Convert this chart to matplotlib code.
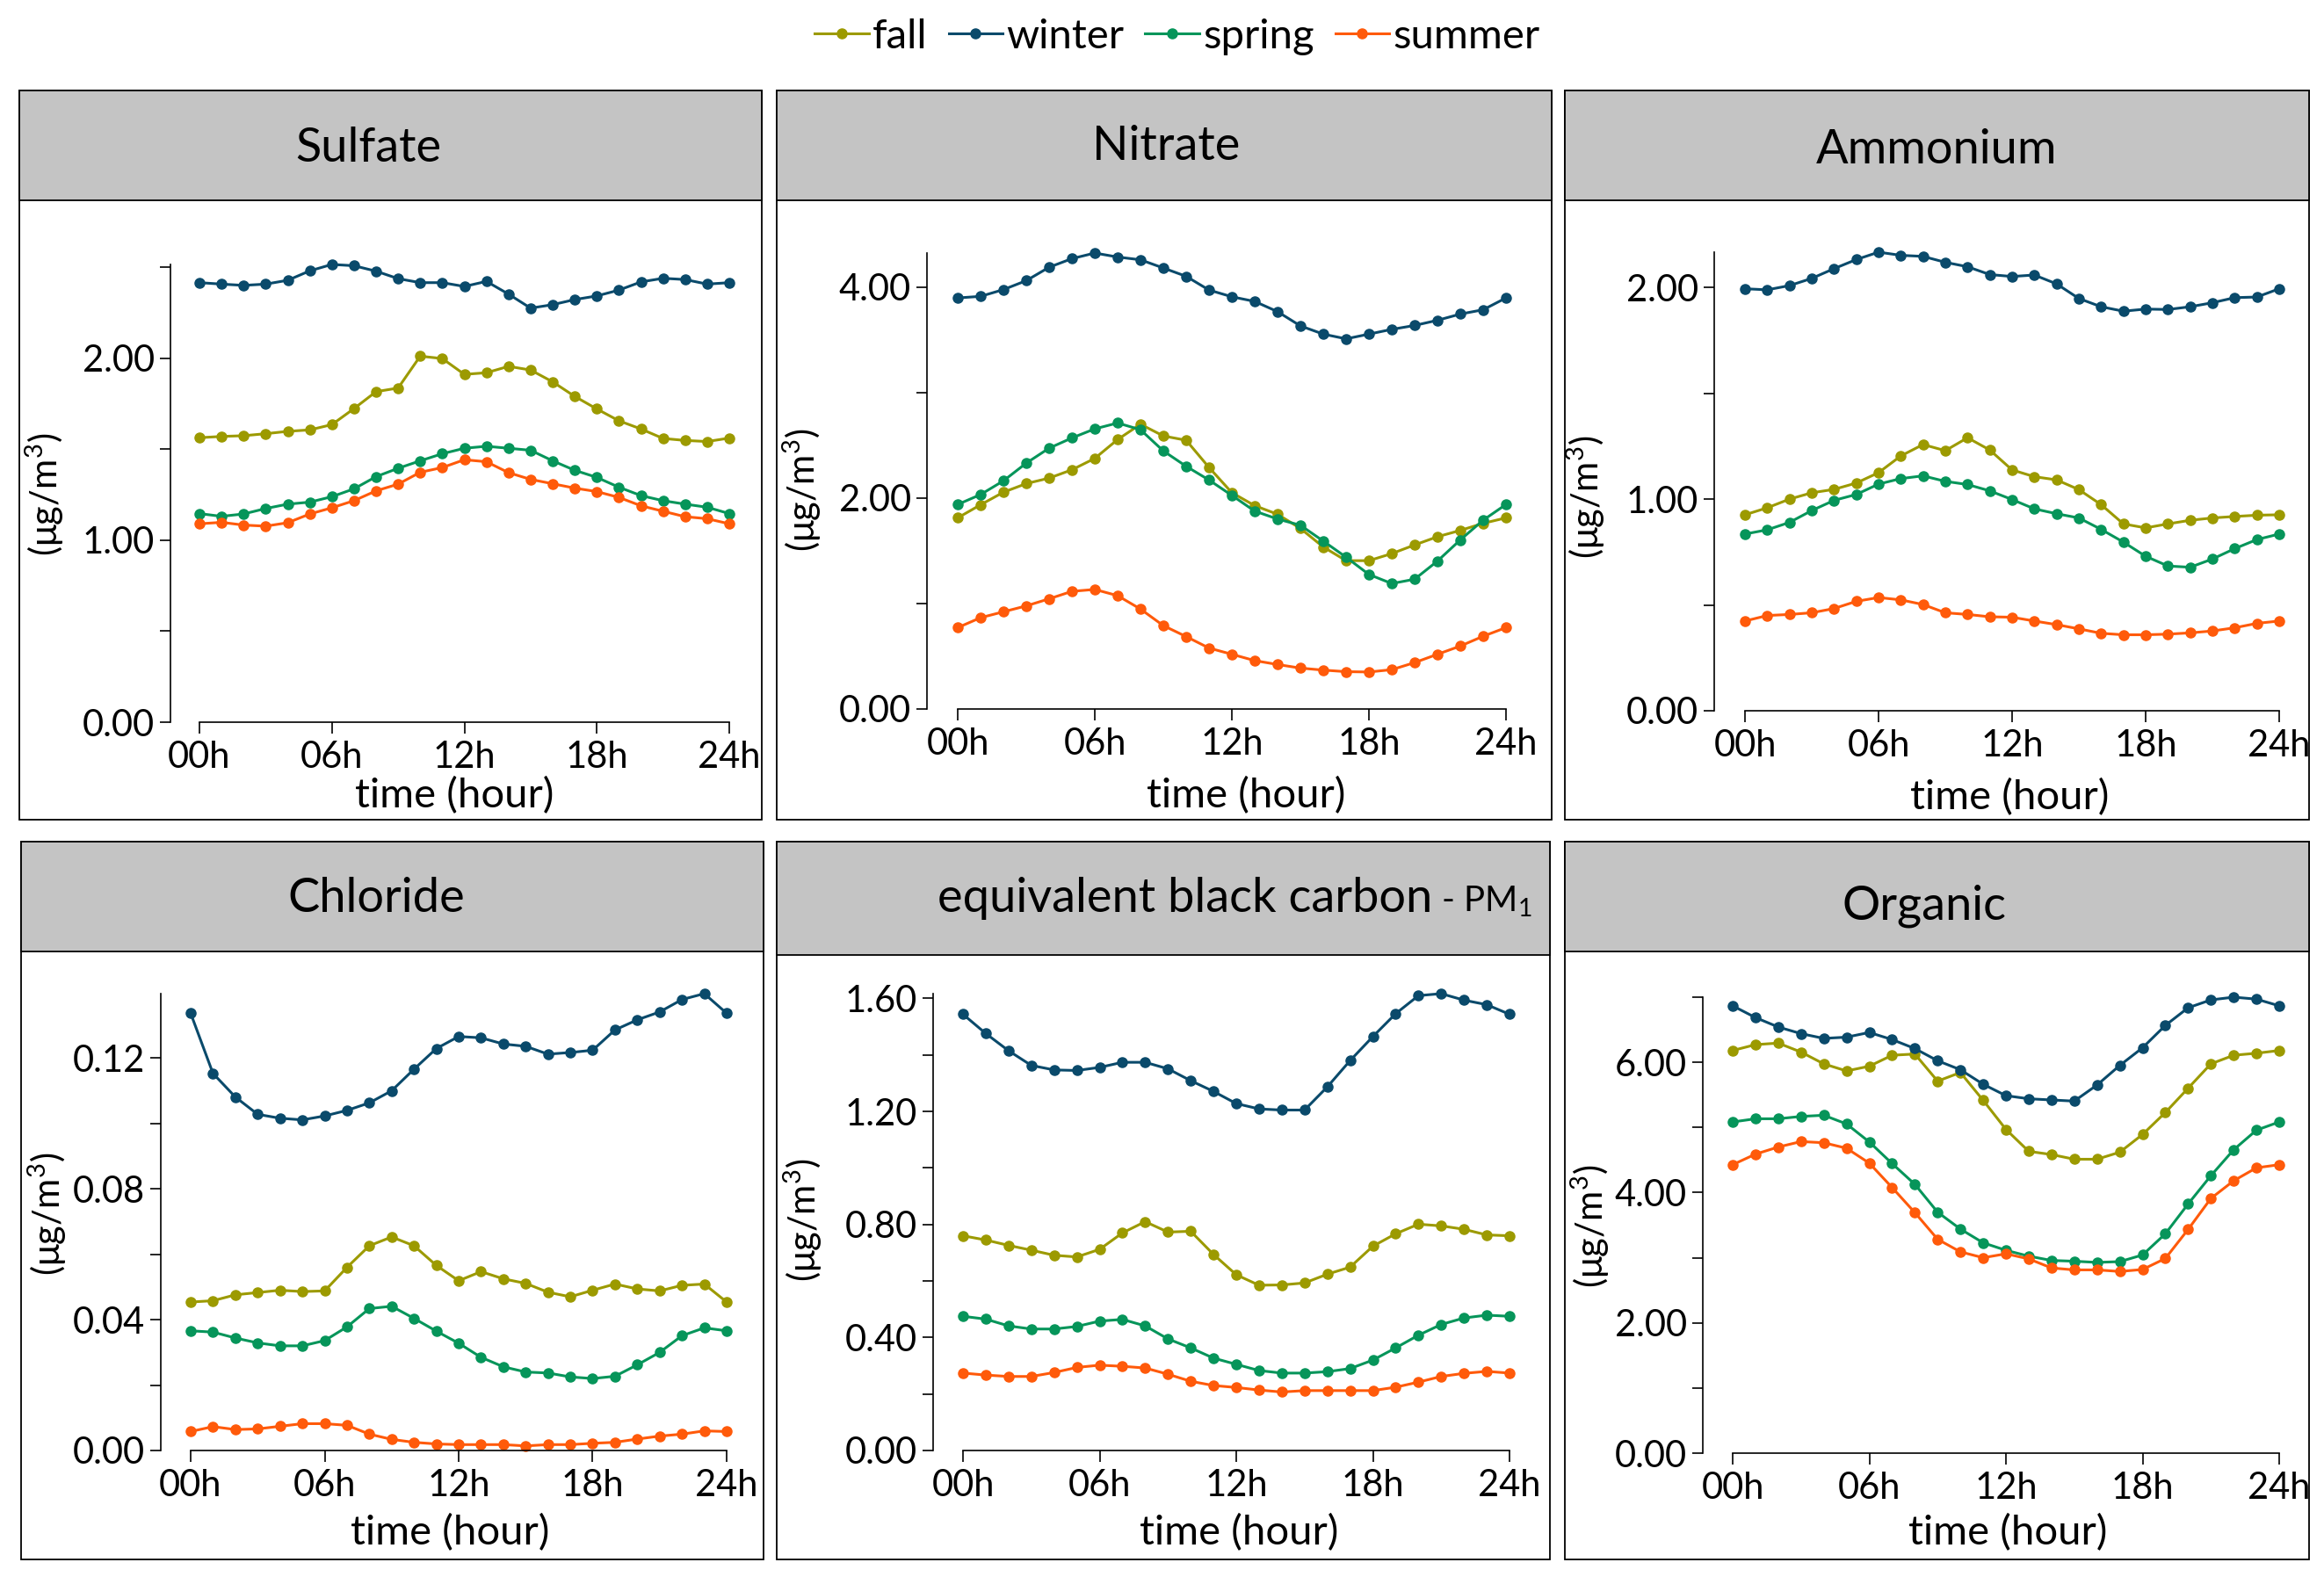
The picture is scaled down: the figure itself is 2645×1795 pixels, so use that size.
import matplotlib
matplotlib.use("Agg")
import matplotlib.pyplot as plt
from matplotlib.patches import Rectangle
from matplotlib.lines import Line2D

plt.rcParams['font.family'] = ['Lato', 'DejaVu Sans']
plt.rcParams['mathtext.fontset'] = 'custom'
plt.rcParams['mathtext.rm'] = 'Lato'
plt.rcParams['mathtext.it'] = 'Lato:italic'

W, H = 2645, 1795

hours = list(range(25))
hour_ticks = [0, 6, 12, 18, 24]
hour_labels = ['00h', '06h', '12h', '18h', '24h']
seasons = ['fall', 'winter', 'spring', 'summer']
season_colors = ['#9c9a00', '#0a4a6b', '#06955a', '#ff5a0a']

# ---- data (hourly means, 00h..24h) ----
sulfate_fall = [1.563, 1.570, 1.574, 1.585, 1.598, 1.606, 1.635, 1.723, 1.816, 1.836, 2.011, 1.998, 1.911,
                1.920, 1.955, 1.935, 1.870, 1.790, 1.721, 1.656, 1.611, 1.559, 1.548, 1.542, 1.561]
sulfate_winter = [2.415, 2.407, 2.400, 2.407, 2.428, 2.480, 2.515, 2.508, 2.478, 2.437, 2.415, 2.415, 2.394,
                  2.422, 2.352, 2.275, 2.294, 2.322, 2.342, 2.374, 2.419, 2.439, 2.432, 2.407, 2.415]
sulfate_spring = [1.146, 1.131, 1.144, 1.174, 1.198, 1.209, 1.239, 1.282, 1.349, 1.395, 1.436, 1.475, 1.505,
                  1.516, 1.505, 1.494, 1.436, 1.384, 1.345, 1.291, 1.245, 1.217, 1.198, 1.181, 1.146]
sulfate_summer = [1.090, 1.098, 1.083, 1.077, 1.096, 1.144, 1.178, 1.217, 1.271, 1.308, 1.373, 1.399, 1.442,
                  1.431, 1.371, 1.334, 1.310, 1.286, 1.267, 1.235, 1.189, 1.159, 1.129, 1.118, 1.090]

nitrate_fall = [1.813, 1.937, 2.056, 2.138, 2.190, 2.269, 2.377, 2.556, 2.701, 2.590, 2.549, 2.291, 2.052,
                1.929, 1.847, 1.713, 1.537, 1.407, 1.407, 1.474, 1.556, 1.634, 1.694, 1.761, 1.813]
nitrate_winter = [3.899, 3.914, 3.978, 4.063, 4.190, 4.272, 4.325, 4.287, 4.261, 4.183, 4.104, 3.974, 3.910,
                  3.866, 3.769, 3.634, 3.556, 3.511, 3.556, 3.601, 3.638, 3.687, 3.746, 3.787, 3.899]
nitrate_spring = [1.940, 2.034, 2.164, 2.332, 2.474, 2.571, 2.657, 2.713, 2.649, 2.448, 2.302, 2.172, 2.026,
                  1.877, 1.802, 1.743, 1.593, 1.440, 1.276, 1.190, 1.231, 1.403, 1.604, 1.791, 1.940]
nitrate_summer = [0.772, 0.866, 0.922, 0.978, 1.045, 1.116, 1.134, 1.075, 0.948, 0.791, 0.687, 0.578, 0.519,
                  0.459, 0.422, 0.388, 0.369, 0.354, 0.351, 0.373, 0.440, 0.519, 0.597, 0.690, 0.772]

ammonium_fall = [0.926, 0.959, 1.000, 1.030, 1.046, 1.076, 1.125, 1.204, 1.258, 1.229, 1.290, 1.232, 1.138,
                 1.106, 1.091, 1.045, 0.974, 0.883, 0.864, 0.883, 0.900, 0.911, 0.918, 0.924, 0.926]
ammonium_winter = [1.994, 1.989, 2.009, 2.043, 2.089, 2.132, 2.167, 2.152, 2.147, 2.119, 2.098, 2.061, 2.052,
                   2.059, 2.017, 1.948, 1.909, 1.888, 1.898, 1.896, 1.909, 1.928, 1.952, 1.955, 1.994]
ammonium_spring = [0.835, 0.855, 0.890, 0.946, 0.994, 1.022, 1.071, 1.097, 1.110, 1.084, 1.069, 1.039, 0.998,
                   0.954, 0.931, 0.911, 0.857, 0.797, 0.730, 0.684, 0.678, 0.717, 0.766, 0.809, 0.835]
ammonium_summer = [0.424, 0.450, 0.455, 0.463, 0.483, 0.517, 0.535, 0.524, 0.502, 0.463, 0.455, 0.444, 0.442,
                   0.424, 0.407, 0.387, 0.366, 0.359, 0.359, 0.362, 0.368, 0.377, 0.392, 0.413, 0.424]

chloride_fall = [0.0454, 0.0458, 0.0476, 0.0483, 0.0490, 0.0486, 0.0488, 0.0560, 0.0626, 0.0653, 0.0626, 0.0566,
                 0.0519, 0.0547, 0.0525, 0.0511, 0.0484, 0.0470, 0.0490, 0.0509, 0.0494, 0.0488, 0.0505, 0.0509,
                 0.0454]
chloride_winter = [0.1337, 0.1153, 0.1081, 0.1028, 0.1016, 0.1011, 0.1023, 0.1040, 0.1063, 0.1100, 0.1166, 0.1229,
                   0.1266, 0.1262, 0.1243, 0.1236, 0.1212, 0.1217, 0.1224, 0.1286, 0.1317, 0.1341, 0.1379, 0.1397,
                   0.1337]
chloride_spring = [0.0366, 0.0362, 0.0344, 0.0329, 0.0320, 0.0320, 0.0336, 0.0378, 0.0434, 0.0441, 0.0404, 0.0365,
                   0.0328, 0.0285, 0.0256, 0.0240, 0.0237, 0.0225, 0.0220, 0.0227, 0.0262, 0.0300, 0.0351, 0.0375,
                   0.0366]
chloride_summer = [0.0058, 0.0073, 0.0064, 0.0066, 0.0074, 0.0082, 0.0082, 0.0077, 0.0050, 0.0034, 0.0025, 0.0020,
                   0.0018, 0.0018, 0.0018, 0.0014, 0.0018, 0.0018, 0.0022, 0.0025, 0.0035, 0.0044, 0.0050, 0.0060,
                   0.0058]

ebc_fall = [0.760, 0.745, 0.726, 0.709, 0.691, 0.685, 0.712, 0.770, 0.810, 0.773, 0.776, 0.694, 0.622,
            0.585, 0.586, 0.593, 0.624, 0.649, 0.723, 0.767, 0.801, 0.795, 0.783, 0.763, 0.760]
ebc_winter = [1.544, 1.476, 1.415, 1.363, 1.347, 1.345, 1.356, 1.374, 1.374, 1.351, 1.309, 1.271, 1.228,
              1.209, 1.205, 1.205, 1.287, 1.380, 1.465, 1.546, 1.610, 1.617, 1.594, 1.578, 1.544]
ebc_spring = [0.475, 0.465, 0.441, 0.430, 0.430, 0.439, 0.458, 0.464, 0.441, 0.395, 0.363, 0.327, 0.305,
              0.283, 0.274, 0.274, 0.279, 0.290, 0.320, 0.363, 0.408, 0.446, 0.469, 0.479, 0.475]
ebc_summer = [0.274, 0.267, 0.262, 0.262, 0.276, 0.294, 0.302, 0.298, 0.292, 0.270, 0.245, 0.230, 0.223,
              0.214, 0.207, 0.212, 0.212, 0.212, 0.212, 0.224, 0.242, 0.262, 0.273, 0.280, 0.274]

organic_fall = [6.181, 6.271, 6.295, 6.157, 5.976, 5.867, 5.940, 6.108, 6.127, 5.711, 5.843, 5.416, 4.970,
                4.633, 4.584, 4.512, 4.512, 4.620, 4.892, 5.229, 5.602, 5.976, 6.108, 6.139, 6.181]
organic_winter = [6.867, 6.687, 6.542, 6.440, 6.367, 6.386, 6.458, 6.349, 6.211, 6.024, 5.886, 5.663, 5.488,
                  5.440, 5.422, 5.404, 5.651, 5.952, 6.223, 6.566, 6.837, 6.958, 7.000, 6.970, 6.867]
organic_spring = [5.084, 5.133, 5.133, 5.169, 5.187, 5.054, 4.777, 4.446, 4.127, 3.699, 3.440, 3.229, 3.114,
                  3.024, 2.958, 2.946, 2.928, 2.940, 3.042, 3.367, 3.825, 4.259, 4.657, 4.958, 5.084]
organic_summer = [4.428, 4.590, 4.699, 4.783, 4.765, 4.681, 4.452, 4.078, 3.693, 3.283, 3.090, 3.000, 3.060,
                  2.982, 2.843, 2.813, 2.813, 2.789, 2.819, 2.988, 3.434, 3.910, 4.181, 4.380, 4.428]

# y ticks (all drawn) and which of them carry a label
sulfate_ticks = [0, 0.5, 1.0, 1.5, 2.0, 2.5]
sulfate_labels = ['0.00', '', '1.00', '', '2.00', '']
nitrate_ticks = [0, 1, 2, 3, 4]
nitrate_labels = ['0.00', '', '2.00', '', '4.00']
ammonium_ticks = [0, 0.5, 1.0, 1.5, 2.0]
ammonium_labels = ['0.00', '', '1.00', '', '2.00']
chloride_ticks = [0, 0.02, 0.04, 0.06, 0.08, 0.10, 0.12]
chloride_labels = ['0.00', '', '0.04', '', '0.08', '', '0.12']
ebc_ticks = [0, 0.2, 0.4, 0.6, 0.8, 1.0, 1.2, 1.4, 1.6]
ebc_labels = ['0.00', '', '0.40', '', '0.80', '', '1.20', '', '1.60']
organic_ticks = [0, 1, 2, 3, 4, 5, 6, 7]
organic_labels = ['0.00', '', '2.00', '', '4.00', '', '6.00', '']


def fx(x):
    return x / W


def fy(y):
    return 1 - y / H


fig = plt.figure(figsize=(W / 100, H / 100), dpi=100)

# frame: (left, right, top, header bottom, bottom), axis px: (yaxis x, 00h x, 24h x, zero y, top y)
panels = [
    ("Sulfate", [sulfate_fall, sulfate_winter, sulfate_spring, sulfate_summer], sulfate_ticks, sulfate_labels,
     (22, 867, 103, 228, 933), (194, 227, 830, 822, 301), (419, 169), (517, 906), (51, 563)),
    ("Nitrate", [nitrate_fall, nitrate_winter, nitrate_spring, nitrate_summer], nitrate_ticks, nitrate_labels,
     (884, 1766, 103, 228, 933), (1055, 1090, 1714, 807, 288), (1327, 166), (1418, 906), (913, 558)),
    ("Ammonium", [ammonium_fall, ammonium_winter, ammonium_spring, ammonium_summer], ammonium_ticks,
     ammonium_labels, (1781, 2628, 103, 228, 933), (1951, 1986, 2594, 809, 287), (2204, 171), (2287, 908),
     (1805, 566)),
    ("Chloride", [chloride_fall, chloride_winter, chloride_spring, chloride_summer], chloride_ticks,
     chloride_labels, (24, 869, 958, 1083, 1775), (183, 217, 827, 1651, 1131), (428, 1023), (512, 1745),
     (54, 1382)),
    (None, [ebc_fall, ebc_winter, ebc_spring, ebc_summer], ebc_ticks, ebc_labels,
     (884, 1764, 958, 1087, 1775), (1062, 1096, 1718, 1651, 1131), None, (1410, 1745), (914, 1389)),
    ("Organic", [organic_fall, organic_winter, organic_spring, organic_summer], organic_ticks, organic_labels,
     (1781, 2628, 958, 1083, 1775), (1938, 1972, 2594, 1654, 1135), (2190, 1031), (2285, 1745), (1810, 1396)),
]

for title, series, yt, ylab, frame, axp, tpos, xlpos, ylpos in panels:
    left, right, top, hdr, bottom = frame
    # panel border and grey header strip
    fig.patches.append(Rectangle((fx(left), fy(bottom)), (right - left) / W, (bottom - top) / H,
                                 transform=fig.transFigure, fill=False, ec='black', lw=1.3))
    fig.patches.append(Rectangle((fx(left), fy(hdr)), (right - left) / W, (hdr - top) / H,
                                 transform=fig.transFigure, fc='#c4c4c4', ec='black', lw=1.3))
    if title is not None:
        fig.text(fx(tpos[0]), fy(tpos[1]), title, ha='center', va='center', fontsize=39)
    else:
        fig.text(fx(1630), fy(1038), "equivalent black carbon", ha='right', va='baseline', fontsize=39)
        fig.text(fx(1640), fy(1038), r"- PM$_\mathregular{1}$", ha='left', va='baseline', fontsize=29)

    yx, x0, x24, y0, ytop = axp
    ppx = (x24 - x0) / 24.0
    ax_right = x24 + 0.6 * ppx
    ax = fig.add_axes([fx(yx), fy(y0), (ax_right - yx) / W, (y0 - ytop) / H])
    ax.set_facecolor('none')
    ymax = max(max(s) for s in series)
    ax.set_ylim(0, ymax)
    ax.set_xlim(-(x0 - yx) / ppx, 24.6)

    for s, name, col in zip(series, seasons, season_colors):
        ax.plot(hours, s, '-o', color=col, lw=2.2, ms=8, clip_on=False, label=name)

    ax.spines['top'].set_visible(False)
    ax.spines['right'].set_visible(False)
    ax.spines['bottom'].set_bounds(0, 24)
    ax.spines['left'].set_linewidth(1.2)
    ax.spines['bottom'].set_linewidth(1.2)

    keep = [i for i, t in enumerate(yt) if t <= ymax + 1e-9]
    ax.set_yticks([yt[i] for i in keep], [ylab[i] for i in keep])
    ax.set_xticks(hour_ticks, hour_labels)
    ax.tick_params(axis='both', direction='out', length=9, width=1.2, labelsize=30)
    ax.tick_params(axis='y', pad=4)
    ax.tick_params(axis='x', pad=6)

    fig.text(fx(xlpos[0]), fy(xlpos[1]), "time (hour)", ha='center', va='center', fontsize=34)
    fig.text(fx(ylpos[0]), fy(ylpos[1]), r"($\mathregular{\mu}$g/m$^\mathregular{3}$)", ha='center',
             va='center', rotation=90, fontsize=30)

# legend on top
handles = [Line2D([0], [0], color=c, marker='o', lw=2.2, ms=8) for c in season_colors]
fig.legend(handles, seasons, loc='center', bbox_to_anchor=(fx(1340), fy(42)), ncol=4, frameon=False,
           fontsize=34, handlelength=1.3, handletextpad=0.1, columnspacing=0.5)

fig.savefig("out.png", dpi=100)
